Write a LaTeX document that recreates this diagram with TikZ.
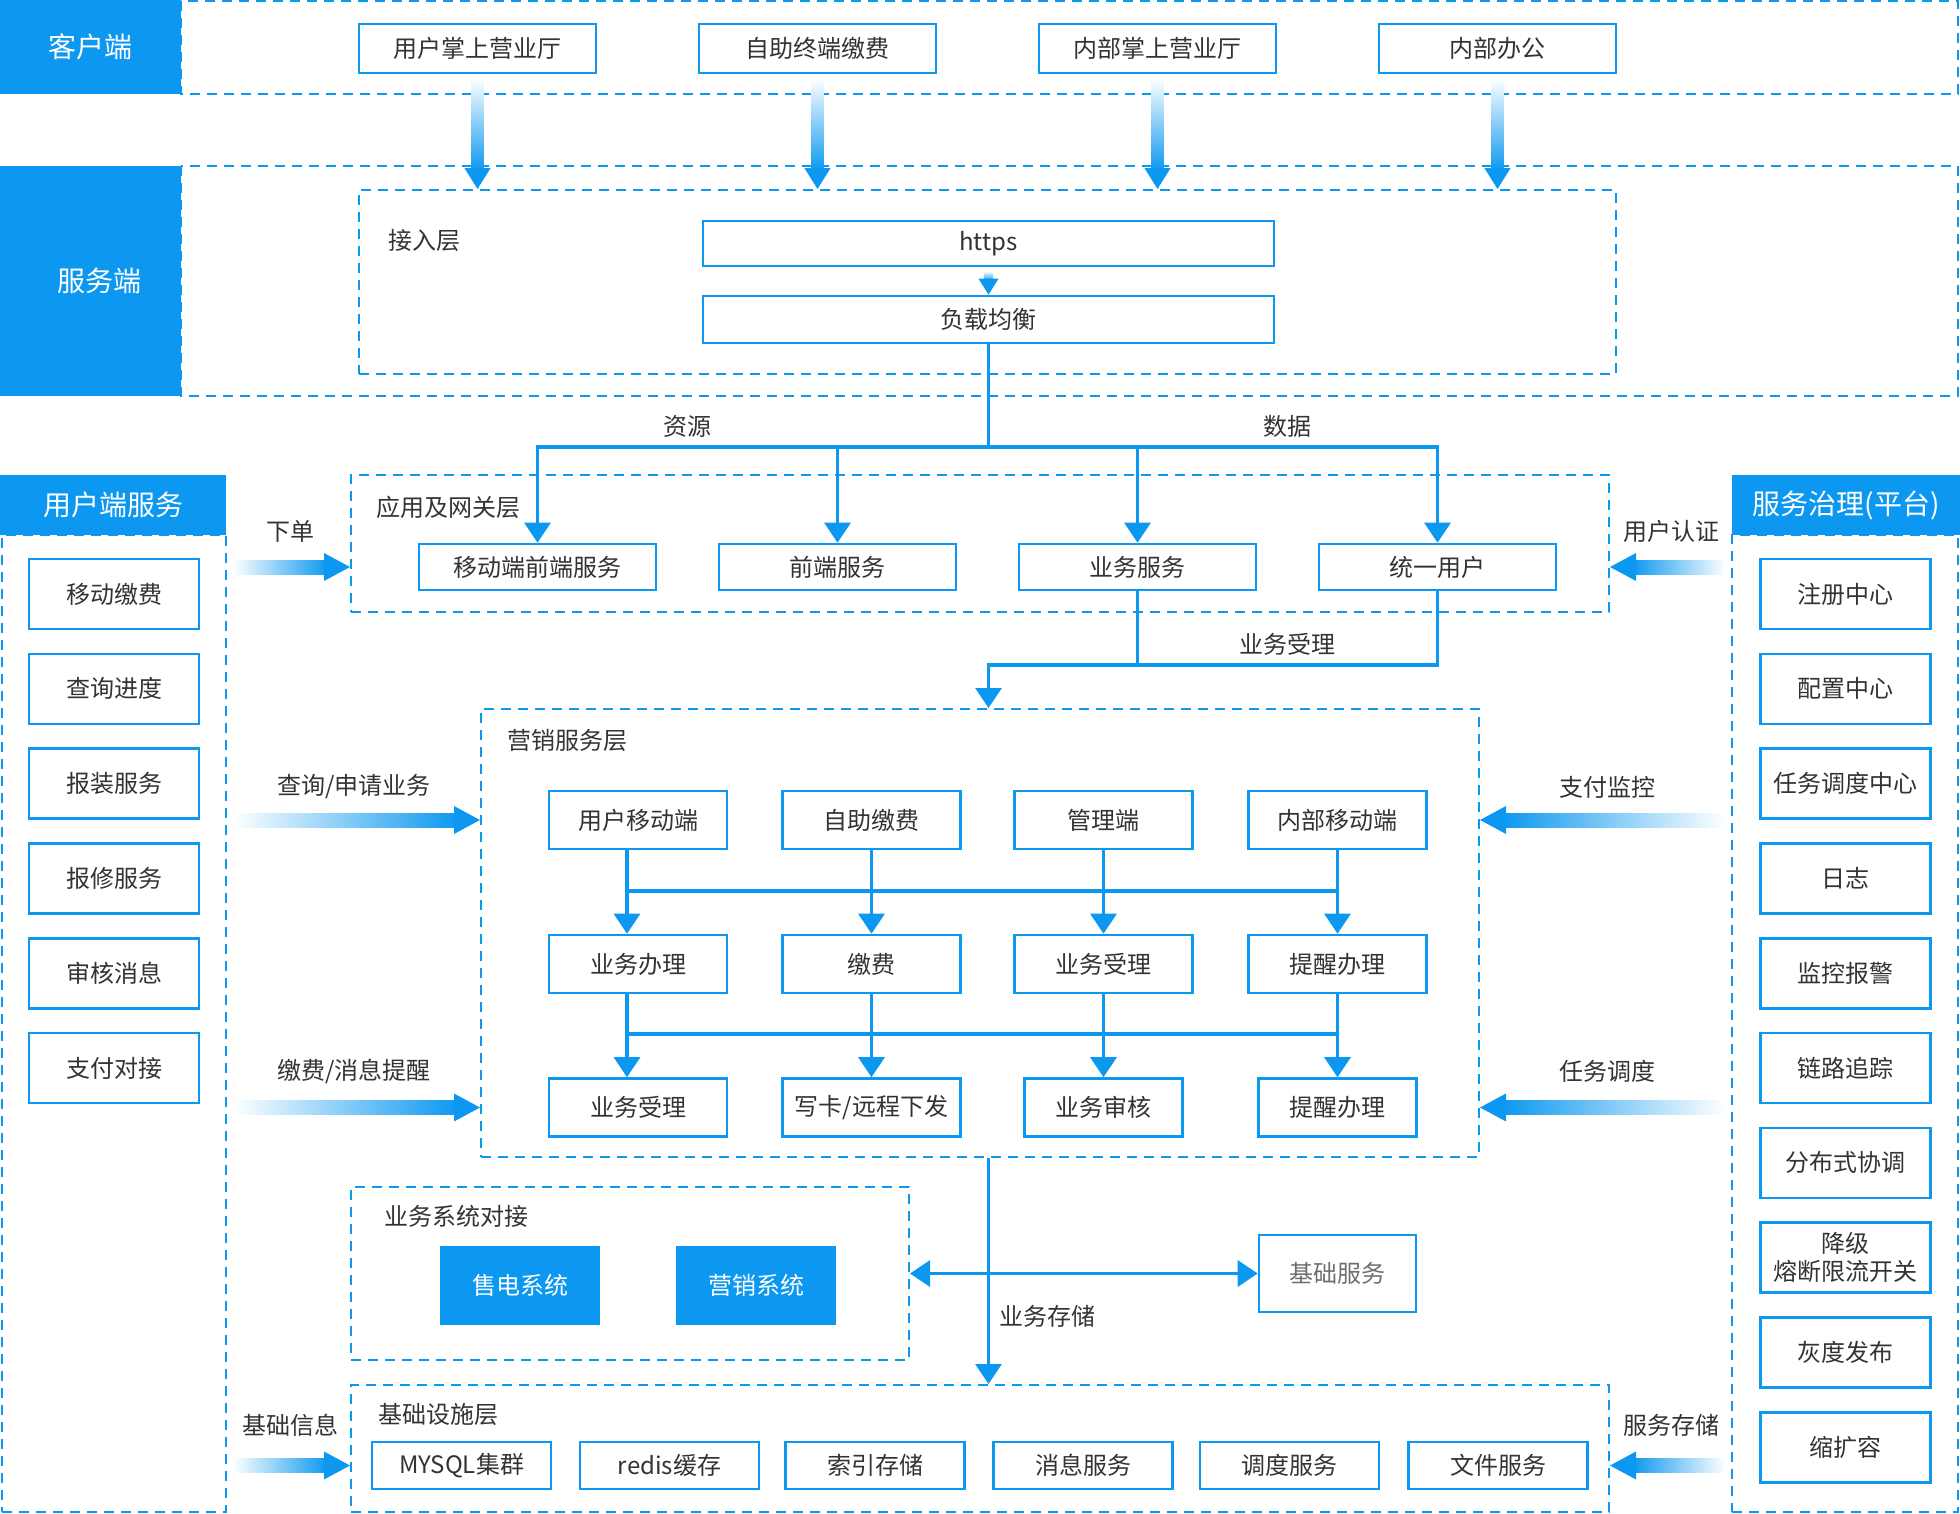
\documentclass[tikz,border=0pt]{standalone}
\usepackage{fontspec}
\setmainfont{Noto Sans CJK SC}
\usetikzlibrary{positioning,calc,arrows.meta}
\definecolor{mainblue}{RGB}{12,152,240}
\definecolor{darktext}{RGB}{51,51,51}
\definecolor{softtext}{RGB}{110,110,110}

% faded arrows: [head half width], start, tip
\newcommand{\fadedown}[3][13]{%
  \path #2 coordinate (fa) #3 coordinate (fb);
  \shade[top color=white, bottom color=mainblue] ($(fa)+(-0.46*#1,4)$) rectangle ($(fb)+(0.46*#1,-1.4*#1)$);
  \fill[mainblue] ($(fb)+(-#1,-1.6*#1)$) -- ($(fb)+(#1,-1.6*#1)$) -- (fb) -- cycle;}
\newcommand{\faderight}[2]{%
  \path #1 coordinate (fa) #2 coordinate (fb);
  \shade[left color=white, right color=mainblue] ($(fa)+(6,-7)$) rectangle ($(fb)+(-22,7)$);
  \fill[mainblue] ($(fb)+(-26,-14)$) -- ($(fb)+(-26,14)$) -- (fb) -- cycle;}
\newcommand{\fadeleft}[2]{%
  \path #1 coordinate (fa) #2 coordinate (fb);
  \shade[left color=mainblue, right color=white] ($(fb)+(22,-7)$) rectangle ($(fa)+(-6,7)$);
  \fill[mainblue] ($(fb)+(26,-14)$) -- ($(fb)+(26,14)$) -- (fb) -- cycle;}

\begin{document}
\begin{tikzpicture}[
      x=0.5pt, y=-0.5pt,
      font=\fontsize{12pt}{13.8pt}\selectfont,
      text=darktext,
      node distance=11.1pt,
      zone/.style={draw=mainblue, line width=1pt, dash pattern=on 5pt off 3.5pt},
      box/.style={draw=mainblue, line width=1.3pt, fill=white, inner sep=2pt, align=center},
      clientbox/.style={box, minimum width=118.5pt, minimum height=24.5pt},
      gwbox/.style={box, minimum width=118.5pt, minimum height=23pt},
      mkbox/.style={box, minimum width=89pt, minimum height=29pt},
      infbox/.style={box, minimum width=89.5pt, minimum height=23.5pt},
      sidebox/.style={box, minimum width=85pt, minimum height=35pt},
      headbox/.style={fill=mainblue, text=white, inner sep=0pt, font=\fontsize{14pt}{16pt}\selectfont},
      solidbox/.style={fill=mainblue, text=white, inner sep=0pt, minimum width=80pt, minimum height=39.5pt},
      conn/.style={draw=mainblue, line width=1.6pt},
      lbl/.style={inner sep=1pt},
      >={Triangle[width=13pt,length=10pt]}
    ]
    \useasboundingbox (0,0) rectangle (1960,1514);

    % Bands
    \draw[zone] (181,1) rectangle (1958,94);
    \node[headbox, minimum width=90.5pt, minimum height=47pt] (chead) at (90.5,47) {客户端};
    \draw[zone] (181,166) rectangle (1958,396);
    \node[headbox, minimum width=90.5pt, minimum height=115pt] (shead) at (90.5,281) {\hspace*{9pt}服务端};

    % Client side
    \node[clientbox] (c1) at (477.5,48.5) {用户掌上营业厅};
    \node[clientbox] (c2) at (817.5,48.5) {自助终端缴费};
    \node[clientbox] (c3) at (1157.5,48.5) {内部掌上营业厅};
    \node[clientbox] (c4) at (1497.5,48.5) {内部办公};

    % Access layer
    \node[zone, minimum width=628.5pt, minimum height=92pt] (acc) at (987.5,282) {};
    \node[lbl, anchor=west] at (386,241) {接入层};
    \node[box, minimum width=285.5pt, minimum height=22.5pt] (https) at (988.5,243.5) {https};
    \node[box, minimum width=285.5pt, minimum height=23.5pt] (lb) at (988.5,319.5) {负载均衡};

    % Gateway layer
    \node[zone, minimum width=629pt, minimum height=68.5pt] (gw) at (980,543.5) {};
    \node[lbl, anchor=west] at (374,507) {应用及网关层};
    \node[gwbox] (g1) at (537.5,567) {移动端前端服务};
    \node[gwbox] (g2) at (837.5,567) {前端服务};
    \node[gwbox] (g3) at (1137.5,567) {业务服务};
    \node[gwbox] (g4) at (1437.5,567) {统一用户};

    % Marketing layer
    \node[zone, minimum width=499pt, minimum height=224pt] (mk) at (980,933) {};
    \node[lbl, anchor=west] at (505,740) {营销服务层};
    \node[mkbox] (m11) at (638,820) {用户移动端};
    \node[mkbox] (m12) at (871.5,820) {自助缴费};
    \node[mkbox] (m13) at (1103.5,820) {管理端};
    \node[mkbox] (m14) at (1337.5,820) {内部移动端};
    \node[mkbox] (m21) at (638,964) {业务办理};
    \node[mkbox] (m22) at (871.5,964) {缴费};
    \node[mkbox] (m23) at (1103.5,964) {业务受理};
    \node[mkbox] (m24) at (1337.5,964) {提醒办理};
    \node[mkbox] (m31) at (638,1107.5) {业务受理};
    \node[mkbox] (m32) at (871.5,1107.5) {写卡/远程下发};
    \node[mkbox, minimum width=79pt] (m33) at (1103.5,1107.5) {业务审核};
    \node[mkbox, minimum width=79pt] (m34) at (1337.5,1107.5) {提醒办理};

    % Business systems
    \node[zone, minimum width=279pt, minimum height=86.5pt] (biz) at (630,1273.5) {};
    \node[lbl, anchor=west] at (382,1216) {业务系统对接};
    \node[solidbox] (sale) at (520,1285.5) {售电系统};
    \node[solidbox] (mkt) at (756,1285.5) {营销系统};
    \node[box, text=softtext, minimum width=78.5pt, minimum height=38.5pt] (base) at (1337.5,1273.5) {基础服务};

    % Infrastructure layer
    \node[zone, minimum width=629pt, minimum height=63.5pt] (infra) at (980,1448.5) {};
    \node[lbl, anchor=west] at (376,1414) {基础设施层};
    \node[infbox] (i1) at (461.5,1465.5) {MYSQL集群};
    \node[infbox] (i2) at (669.5,1465.5) {redis缓存};
    \node[infbox] (i3) at (875,1465.5) {索引存储};
    \node[infbox] (i4) at (1083,1465.5) {消息服务};
    \node[infbox] (i5) at (1289.5,1465.5) {调度服务};
    \node[infbox] (i6) at (1498,1465.5) {文件服务};

    % User side panel
    \node[headbox, minimum width=113pt, minimum height=30pt] (uhead) at (113,505) {用户端服务};
    \node[zone, minimum width=112pt, minimum height=488.5pt] (upanel) at (114,1023.5) {};
    \node[sidebox] (u1) at (114,594) {移动缴费};
    \node[sidebox, below=of u1] (u2) {查询进度};
    \node[sidebox, below=of u2] (u3) {报装服务};
    \node[sidebox, below=of u3] (u4) {报修服务};
    \node[sidebox, below=of u4] (u5) {审核消息};
    \node[sidebox, below=of u5] (u6) {支付对接};

    % Governance panel
    \node[headbox, minimum width=114pt, minimum height=30pt] (ghead) at (1846,505) {服务治理(平台)};
    \node[zone, minimum width=113pt, minimum height=488.5pt] (gpanel) at (1845,1023.5) {};
    \node[sidebox] (s1) at (1845.5,594) {注册中心};
    \node[sidebox, below=of s1] (s2) {配置中心};
    \node[sidebox, below=of s2] (s3) {任务调度中心};
    \node[sidebox, below=of s3] (s4) {日志};
    \node[sidebox, below=of s4] (s5) {监控报警};
    \node[sidebox, below=of s5] (s6) {链路追踪};
    \node[sidebox, below=of s6] (s7) {分布式协调};
    \node[sidebox, below=of s7] (s8) {降级\\熔断限流开关};
    \node[sidebox, below=of s8] (s9) {灰度发布};
    \node[sidebox, below=of s9] (s10) {缩扩容};

    % Arrows
    \fadedown{(c1.south)}{(c1 |- acc.north)}
    \fadedown{(c2.south)}{(c2 |- acc.north)}
    \fadedown{(c3.south)}{(c3 |- acc.north)}
    \fadedown{(c4.south)}{(c4 |- acc.north)}
    \fadedown[10]{(https.south)}{(lb.north)}

    \coordinate (split) at (988.5,447);
    \draw[conn] (lb.south) -- (split);
    \draw[conn,->] (split) -| (g1.north);
    \draw[conn,->] (split) -| (g2.north);
    \draw[conn,->] (split) -| (g3.north);
    \draw[conn,->] (split) -| (g4.north);
    \node[lbl] at (687,426) {资源};
    \node[lbl] at (1287,426) {数据};

    \coordinate (accept) at (988.5,665);
    \draw[conn] (g4.south) |- (g3.south |- accept);
    \draw[conn,->] (g3.south) |- (accept) -- (accept |- mk.north);
    \node[lbl] at (1287,644) {业务受理};

    \coordinate (bus1) at (0,891);
    \coordinate (bus2) at (0,1034);
    \draw[conn] ([xshift=-5.5pt]m11.south |- bus1) -- (m14 |- bus1);
    \draw[conn] ([xshift=-5.5pt]m21.south |- bus2) -- (m24 |- bus2);
    \draw[conn,->] ([xshift=-5.5pt]m11.south) -- ([xshift=-5.5pt]m21.north);
    \draw[conn,->] (m12) -- (m22);
    \draw[conn,->] (m13) -- (m23);
    \draw[conn,->] (m14) -- (m24);
    \draw[conn,->] ([xshift=-5.5pt]m21.south) -- ([xshift=-5.5pt]m31.north);
    \draw[conn,->] (m22) -- (m32);
    \draw[conn,->] (m23) -- (m33);
    \draw[conn,->] (m24) -- (m34);

    \draw[conn,->] (lb.south |- mk.south) -- (lb.south |- infra.north);
    \draw[conn,<->] (biz.east) -- (base.west);
    \node[lbl] at (1047,1316) {业务存储};

    \faderight{(upanel.east |- g1)}{(gw.west |- g1)}
    \faderight{(upanel.east |- m11)}{(mk.west |- m11)}
    \faderight{(upanel.east |- m31)}{(mk.west |- m31)}
    \faderight{(upanel.east |- i1)}{(infra.west |- i1)}
    \fadeleft{(gpanel.west |- g4)}{(gw.east |- g4)}
    \fadeleft{(gpanel.west |- m14)}{(mk.east |- m14)}
    \fadeleft{(gpanel.west |- m34)}{(mk.east |- m34)}
    \fadeleft{(gpanel.west |- i6)}{(infra.east |- i6)}

    \node[lbl] at (290,531) {下单};
    \node[lbl] at (354,787) {查询/申请业务};
    \node[lbl] at (354,1071) {缴费/消息提醒};
    \node[lbl] at (290,1425) {基础信息};
    \node[lbl] at (1671,531) {用户认证};
    \node[lbl] at (1607,787) {支付监控};
    \node[lbl] at (1607,1071) {任务调度};
    \node[lbl] at (1671,1425) {服务存储};

  \end{tikzpicture}
\end{document}
